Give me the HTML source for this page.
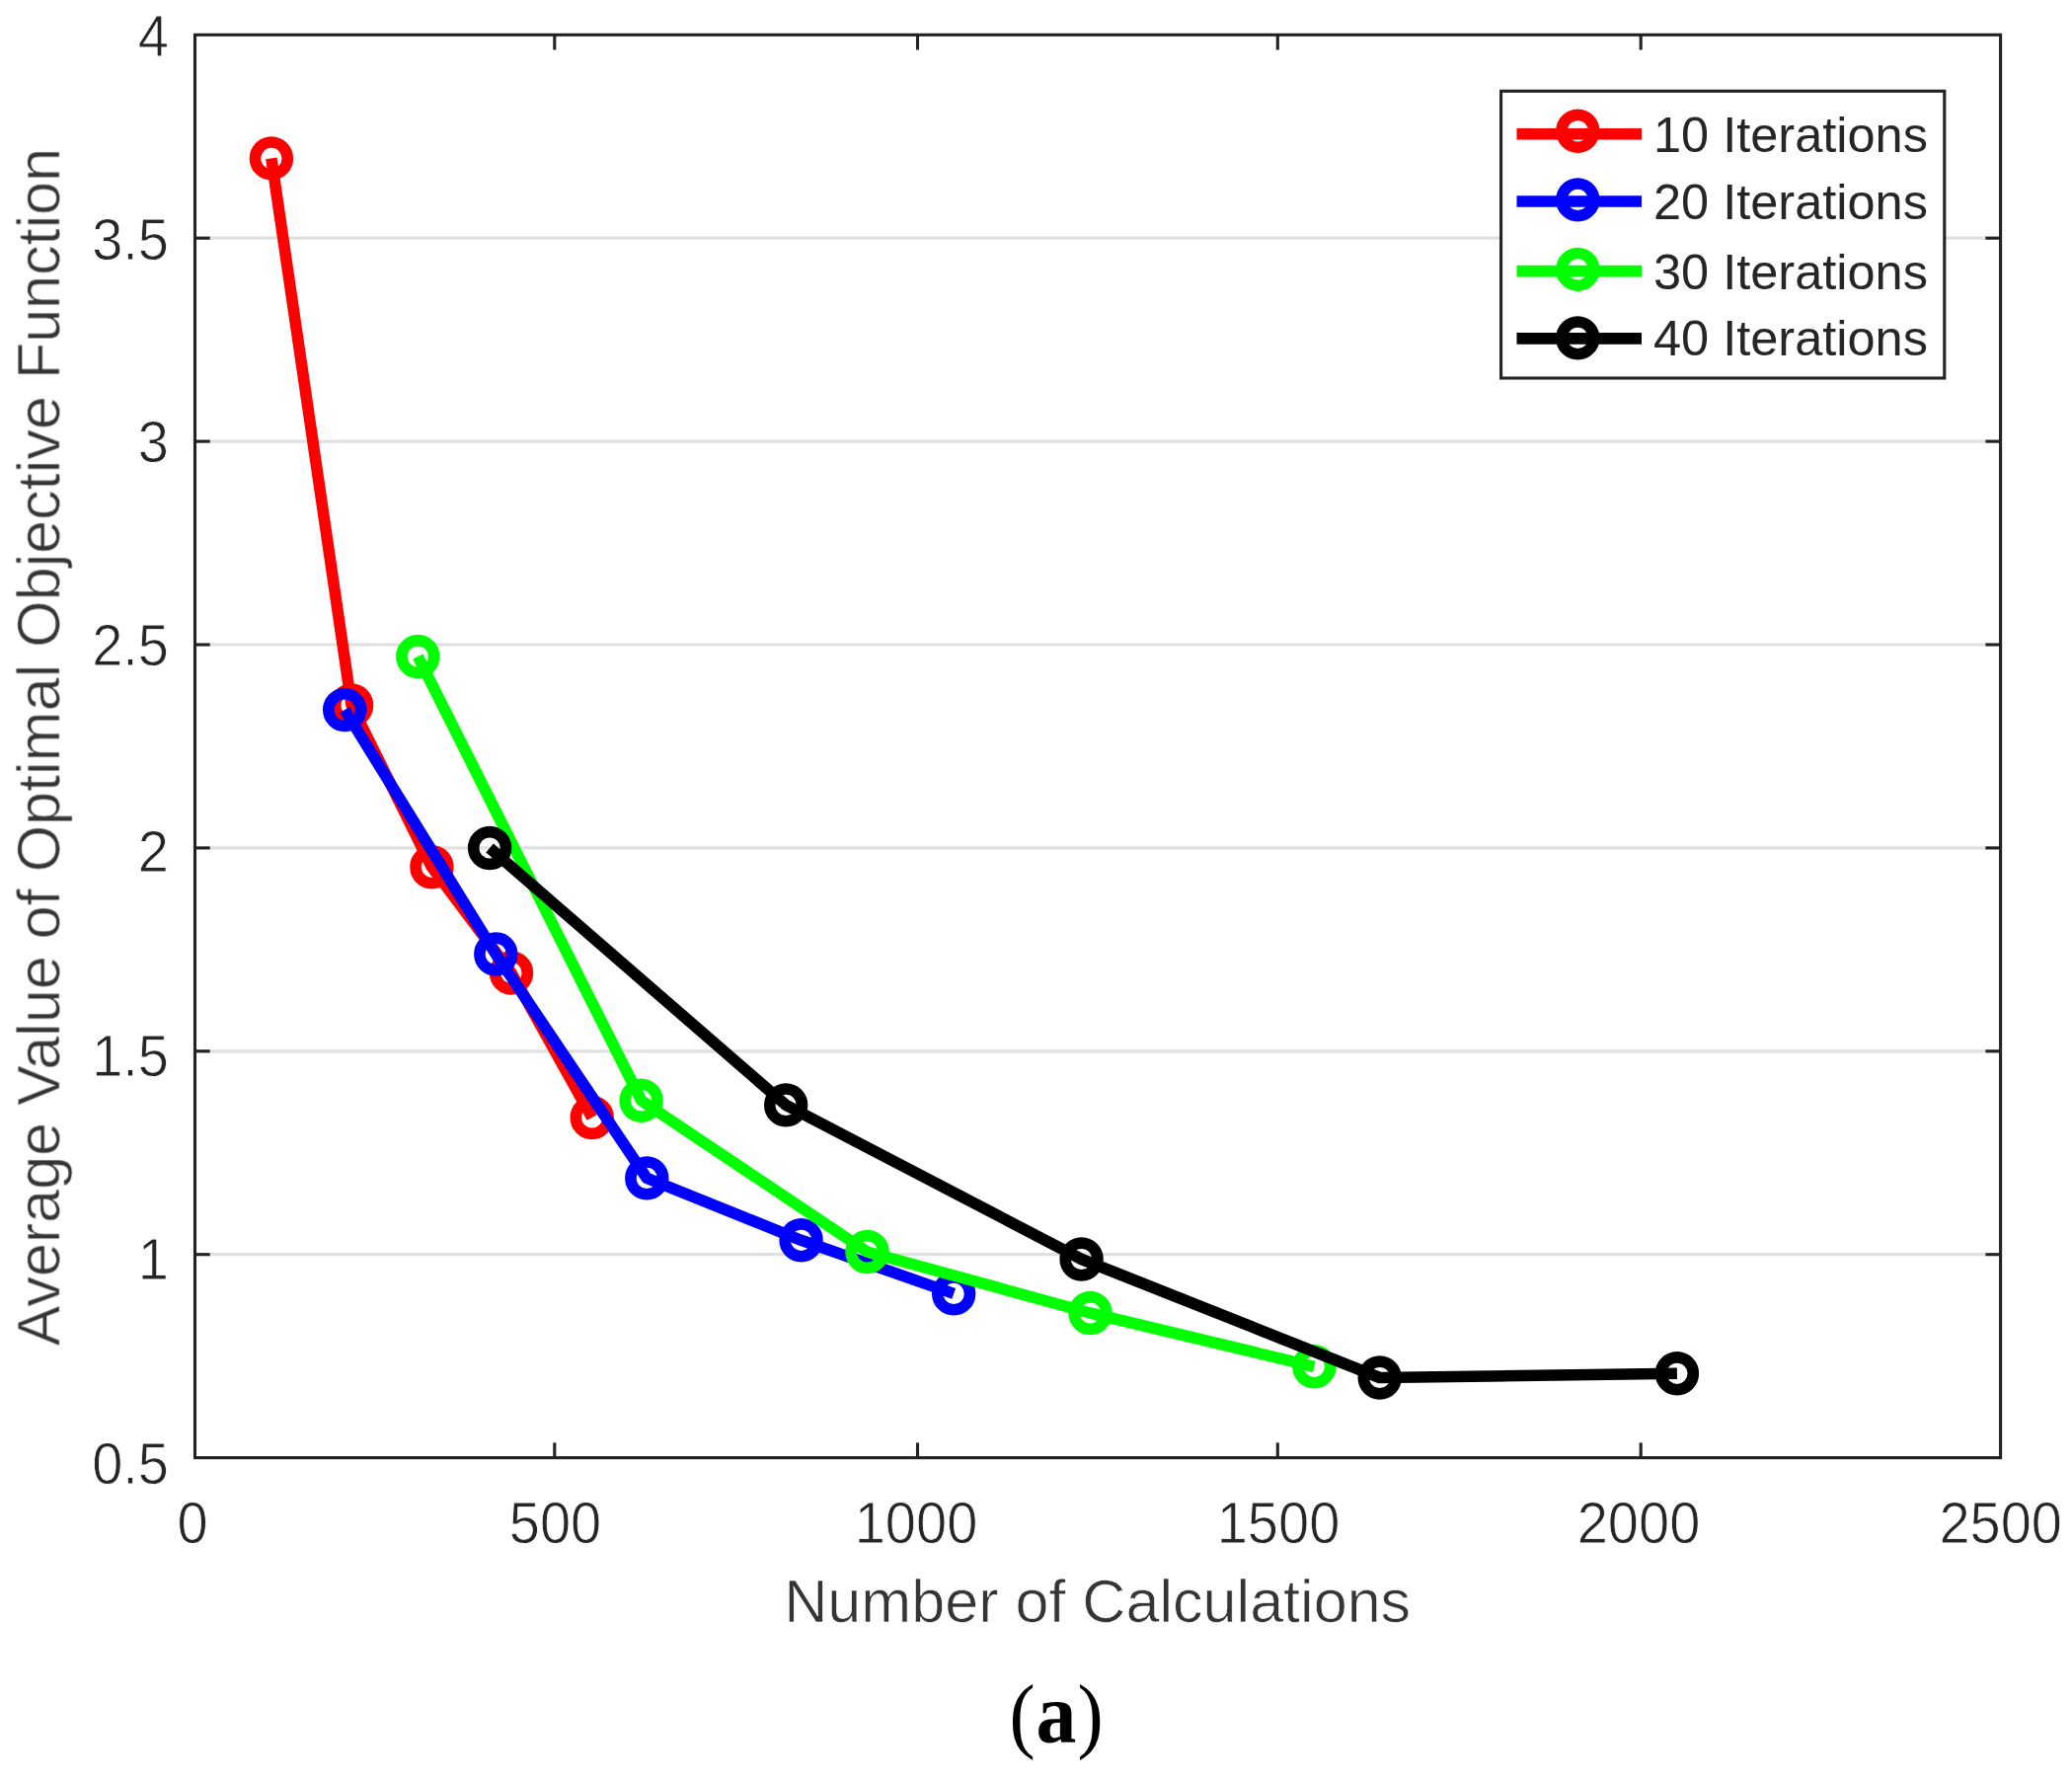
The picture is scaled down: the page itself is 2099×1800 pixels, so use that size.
<!DOCTYPE html>
<html lang="en"><head><meta charset="utf-8"><title>Figure (a)</title>
<style>html,body{margin:0;padding:0;background:#fff}body{width:2099px;height:1800px;overflow:hidden}svg{display:block}text{font-family:"Liberation Sans",Arial,Helvetica,sans-serif;fill:#262626}.tk{font-size:56px;stroke:#fff;stroke-width:0.80px}.lb{font-size:61.1px;fill:#363636;stroke:#fff;stroke-width:0.7px}.lg{font-size:50.5px}.cap{font-family:"Liberation Serif","Times New Roman",serif;fill:#000;stroke:none}</style></head><body>
<svg width="2099" height="1800" viewBox="0 0 2099 1800">
<defs><filter id="soft" x="0" y="0" width="2099" height="1800" filterUnits="userSpaceOnUse"><feGaussianBlur stdDeviation="0.60"/></filter></defs>
<rect x="0" y="0" width="2099" height="1800" fill="#ffffff"/>
<g stroke="#e0e0e0" stroke-width="3.2" fill="none">
<line x1="197.5" y1="1270.7" x2="2026.6" y2="1270.7"/>
<line x1="197.5" y1="1064.8" x2="2026.6" y2="1064.8"/>
<line x1="197.5" y1="858.9" x2="2026.6" y2="858.9"/>
<line x1="197.5" y1="653.0" x2="2026.6" y2="653.0"/>
<line x1="197.5" y1="447.1" x2="2026.6" y2="447.1"/>
<line x1="197.5" y1="241.2" x2="2026.6" y2="241.2"/>
</g>
<g stroke="#222222" stroke-width="3.1" fill="none">
<line x1="561.8" y1="1476.6" x2="561.8" y2="1461.4"/>
<line x1="561.8" y1="35.3" x2="561.8" y2="50.5"/>
<line x1="929.5" y1="1476.6" x2="929.5" y2="1461.4"/>
<line x1="929.5" y1="35.3" x2="929.5" y2="50.5"/>
<line x1="1294.3" y1="1476.6" x2="1294.3" y2="1461.4"/>
<line x1="1294.3" y1="35.3" x2="1294.3" y2="50.5"/>
<line x1="1662.2" y1="1476.6" x2="1662.2" y2="1461.4"/>
<line x1="1662.2" y1="35.3" x2="1662.2" y2="50.5"/>
<line x1="197.5" y1="1270.7" x2="212.7" y2="1270.7"/>
<line x1="2026.6" y1="1270.7" x2="2011.4" y2="1270.7"/>
<line x1="197.5" y1="1064.8" x2="212.7" y2="1064.8"/>
<line x1="2026.6" y1="1064.8" x2="2011.4" y2="1064.8"/>
<line x1="197.5" y1="858.9" x2="212.7" y2="858.9"/>
<line x1="2026.6" y1="858.9" x2="2011.4" y2="858.9"/>
<line x1="197.5" y1="653.0" x2="212.7" y2="653.0"/>
<line x1="2026.6" y1="653.0" x2="2011.4" y2="653.0"/>
<line x1="197.5" y1="447.1" x2="212.7" y2="447.1"/>
<line x1="2026.6" y1="447.1" x2="2011.4" y2="447.1"/>
<line x1="197.5" y1="241.2" x2="212.7" y2="241.2"/>
<line x1="2026.6" y1="241.2" x2="2011.4" y2="241.2"/>
<rect x="197.5" y="35.3" width="1829.1" height="1441.3"/>
</g>
<g filter="url(#soft)">
<g stroke="#ff0000" stroke-width="11.6" fill="none" stroke-linejoin="round">
<polyline points="274.9,160.4 356.1,714.5 437.4,878.3 518.0,985.5 599.7,1132.0"/>
<circle cx="274.9" cy="160.4" r="16.4"/>
<circle cx="356.1" cy="714.5" r="16.4"/>
<circle cx="437.4" cy="878.3" r="16.4"/>
<circle cx="518.0" cy="985.5" r="16.4"/>
<circle cx="599.7" cy="1132.0" r="16.4"/>
</g>
<g stroke="#0000ff" stroke-width="11.6" fill="none" stroke-linejoin="round">
<polyline points="349.2,719.0 502.3,966.5 655.3,1193.4 811.6,1256.3 966.2,1310.4"/>
<circle cx="349.2" cy="719.0" r="16.4"/>
<circle cx="502.3" cy="966.5" r="16.4"/>
<circle cx="655.3" cy="1193.4" r="16.4"/>
<circle cx="811.6" cy="1256.3" r="16.4"/>
<circle cx="966.2" cy="1310.4" r="16.4"/>
</g>
<g stroke="#00ff00" stroke-width="11.6" fill="none" stroke-linejoin="round">
<polyline points="423.3,665.0 649.6,1114.7 878.5,1268.0 1104.5,1330.0 1331.3,1384.3"/>
<circle cx="423.3" cy="665.0" r="16.4"/>
<circle cx="649.6" cy="1114.7" r="16.4"/>
<circle cx="878.5" cy="1268.0" r="16.4"/>
<circle cx="1104.5" cy="1330.0" r="16.4"/>
<circle cx="1331.3" cy="1384.3" r="16.4"/>
</g>
<g stroke="#000000" stroke-width="11.6" fill="none" stroke-linejoin="round">
<polyline points="496.1,859.0 796.2,1119.4 1095.6,1275.5 1397.7,1395.5 1698.9,1391.3"/>
<circle cx="496.1" cy="859.0" r="16.4"/>
<circle cx="796.2" cy="1119.4" r="16.4"/>
<circle cx="1095.6" cy="1275.5" r="16.4"/>
<circle cx="1397.7" cy="1395.5" r="16.4"/>
<circle cx="1698.9" cy="1391.3" r="16.4"/>
</g>
</g>
<rect x="1520.6" y="92.3" width="449.2" height="290.7" fill="#ffffff" stroke="#222222" stroke-width="3.1"/>
<g filter="url(#soft)">
<g stroke="#ff0000" stroke-width="11.6" fill="none">
<line x1="1536.5" y1="135.7" x2="1663" y2="135.7"/>
<circle cx="1598.3" cy="132.8" r="16.4"/>
</g>
<text class="lg" transform="translate(1675 154.2) scale(1 1)">10 Iterations</text>
<g stroke="#0000ff" stroke-width="11.6" fill="none">
<line x1="1536.5" y1="204.0" x2="1663" y2="204.0"/>
<circle cx="1598.3" cy="202.4" r="16.4"/>
</g>
<text class="lg" transform="translate(1675 222.0) scale(1 1)">20 Iterations</text>
<g stroke="#00ff00" stroke-width="11.6" fill="none">
<line x1="1536.5" y1="274.6" x2="1663" y2="274.6"/>
<circle cx="1598.3" cy="272.9" r="16.4"/>
</g>
<text class="lg" transform="translate(1675 292.5) scale(1 1)">30 Iterations</text>
<g stroke="#000000" stroke-width="11.6" fill="none">
<line x1="1536.5" y1="342.9" x2="1663" y2="342.9"/>
<circle cx="1598.3" cy="342.4" r="16.4"/>
</g>
<text class="lg" transform="translate(1675 360.4) scale(1 1)">40 Iterations</text>
<text class="tk" transform="translate(195.0 1562.6) scale(1 1.05)" text-anchor="middle">0</text>
<text class="tk" transform="translate(562.5 1562.6) scale(1 1.05)" text-anchor="middle">500</text>
<text class="tk" transform="translate(928.0 1562.6) scale(1 1.05)" text-anchor="middle">1000</text>
<text class="tk" transform="translate(1295.0 1562.6) scale(1 1.05)" text-anchor="middle">1500</text>
<text class="tk" transform="translate(1660.0 1562.6) scale(1 1.05)" text-anchor="middle">2000</text>
<text class="tk" transform="translate(2026.7 1562.6) scale(1 1.05)" text-anchor="middle">2500</text>
<text class="tk" transform="translate(171 1502.6) scale(1 1.05)" text-anchor="end">0.5</text>
<text class="tk" transform="translate(171 1295.5) scale(1 1.05)" text-anchor="end">1</text>
<text class="tk" transform="translate(171 1089.7) scale(1 1.05)" text-anchor="end">1.5</text>
<text class="tk" transform="translate(171 883.3) scale(1 1.05)" text-anchor="end">2</text>
<text class="tk" transform="translate(171 674.0) scale(1 1.05)" text-anchor="end">2.5</text>
<text class="tk" transform="translate(171 467.8) scale(1 1.05)" text-anchor="end">3</text>
<text class="tk" transform="translate(171 262.9) scale(1 1.05)" text-anchor="end">3.5</text>
<text class="tk" transform="translate(171 56.9) scale(1 1.05)" text-anchor="end">4</text>
<text class="lb" x="794.2" y="1642.6">Number of Calculations</text>
<text class="lb" transform="translate(60.2 1363.4) rotate(-90)">Average Value of Optimal Objective Function</text>
</g>
<text class="cap" transform="translate(1022.5 1764.8) scale(0.92 1)" font-size="85.5">(</text>
<text class="cap" transform="translate(1049.4 1764.8) scale(0.94 1)" font-size="87" font-weight="bold">a</text>
<text class="cap" transform="translate(1091.6 1764.8) scale(0.92 1)" font-size="85.5">)</text>
</svg></body></html>
